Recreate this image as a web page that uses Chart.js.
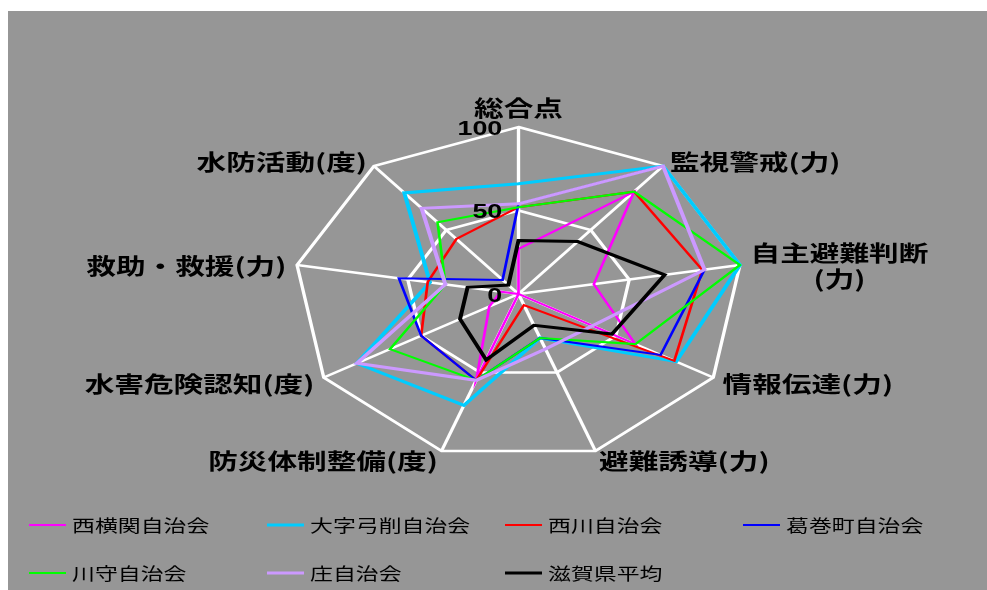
<!DOCTYPE html>
<html>
<head>
<meta charset="utf-8">
<script src="https://cdn.jsdelivr.net/npm/chart.js@4.4.1/dist/chart.umd.min.js"></script>
<style>
  html, body { margin: 0; padding: 0; background: #fff; }
  #wrap { position: absolute; left: 8px; top: 11px; width: 979px; height: 579px; background: #969696; }
  canvas { display: block; }
</style>
</head>
<body>
<div id="wrap"><canvas id="chart" width="979" height="579"></canvas></div>
<script>
// axes, clockwise from the top
var categories = ['総合点', '監視警戒(力)', ['自主避難判断', '(力)'], '情報伝達(力)', '避難誘導(力)',
                  '防災体制整備(度)', '水害危険認知(度)', '救助・救援(力)', '水防活動(度)'];
var tickValues = [0, 50, 100];

var seriesNames = ['西横関自治会', '大字弓削自治会', '西川自治会', '葛巻町自治会', '川守自治会', '庄自治会', '滋賀県平均'];
var nishiyokozeki = [27, 80, 34, 60, 0, 55, 15, 8, 0];
var oazaYuge      = [66, 100, 100, 81, 28, 71, 83, 40, 79];
var nishikawa     = [52, 80, 83, 80, 7, 55, 50, 41, 43];
var kuzumakicho   = [54, 100, 84, 73, 28, 55, 50, 54, 11];
var kawamori      = [52, 80, 100, 60, 28, 55, 66, 33, 56];
var sho           = [54, 100, 84, 38, 35, 55, 83, 33, 67];
var shigaAverage  = [32, 41, 66, 48, 20, 42, 30, 23, 7];

var seriesColors = ['#ff00ff', '#00ccff', '#ff0000', '#0000ff', '#00ff00', '#cc99ff', '#000000'];
var seriesWidths = [2, 3, 2, 2, 2, 3, 3];

// the original picture is stretched sideways
var SX = 1.3466;
var CX = 510.5 / SX, CY = 283, R = 167;

var allSeries = [nishiyokozeki, oazaYuge, nishikawa, kuzumakicho, kawamori, sho, shigaAverage];
var datasets = allSeries.map(function(values, i) {
    return {
        label: seriesNames[i],
        data: values,
        borderColor: seriesColors[i],
        borderWidth: seriesWidths[i],
        fill: false,
        pointRadius: 0,
        pointHoverRadius: 0,
        tension: 0,
        clip: false,
        order: allSeries.length - i
    };
});

var stretchPlugin = {
    id: 'stretch',
    beforeDraw: function(chart) {
        chart.ctx.save();
        chart.ctx.scale(SX, 1);
    },
    afterDraw: function(chart) {
        var ctx = chart.ctx, r = chart.scales.r;

        // value labels left of the vertical axis
        ctx.fillStyle = '#000';
        ctx.font = 'bold 20px "Liberation Sans", Arial, sans-serif';
        ctx.textAlign = 'right';
        ctx.textBaseline = 'middle';
        tickValues.forEach(function(v) {
            ctx.fillText(String(v), r.xCenter - 12, r.yCenter - r.getDistanceFromCenterForValue(v) + 2);
        });

        // axis names
        ctx.font = 'bold 22px "Noto Sans CJK JP", sans-serif';
        categories.forEach(function(lab, i) {
            var p = r.getPointPosition(i, r.drawingArea + 8);
            var lines = [].concat(lab);
            var w = Math.max.apply(null, lines.map(function(l) { return ctx.measureText(l).width; }));
            var dx = p.x - r.xCenter;
            var lh = 26;
            var mid;
            if (Math.abs(dx) < 1) {
                mid = p.x;
                ctx.textAlign = 'center';
                ctx.textBaseline = 'bottom';
                ctx.fillText(lines[0], mid, p.y);
                return;
            }
            mid = dx > 0 ? p.x + w / 2 : p.x - w / 2;
            ctx.textAlign = 'center';
            ctx.textBaseline = 'middle';
            var y0 = p.y + 2 - (lines.length - 1) * lh / 2;
            lines.forEach(function(l, k) {
                ctx.fillText(l, mid, y0 + k * lh);
            });
        });

        // legend, four columns
        var cols = [29, 267, 505, 743], rows = [525, 573];
        ctx.font = '17px "Noto Sans CJK JP", sans-serif';
        ctx.textAlign = 'left';
        ctx.textBaseline = 'middle';
        chart.data.datasets.forEach(function(ds, i) {
            var x = (cols[i % 4] - 8) / SX, y = rows[Math.floor(i / 4)] - 11;
            ctx.strokeStyle = ds.borderColor;
            ctx.lineWidth = ds.borderWidth;
            ctx.beginPath();
            ctx.moveTo(x, y);
            ctx.lineTo(x + 37 / SX, y);
            ctx.stroke();
            ctx.fillStyle = '#000';
            ctx.fillText(ds.label, x + 43 / SX, y + 1);
        });

        ctx.restore();
    }
};

new Chart(document.getElementById('chart'), {
    type: 'radar',
    data: { labels: categories, datasets: datasets },
    options: {
        responsive: false,
        devicePixelRatio: 1,
        animation: false,
        events: [],
        plugins: { legend: { display: false }, tooltip: { enabled: false } },
        scales: {
            r: {
                min: 0,
                max: 100,
                afterSetDimensions: function(s) {
                    s.xCenter = CX;
                    s.yCenter = CY;
                    s.drawingArea = R;
                },
                afterBuildTicks: function(s) {
                    s.ticks = tickValues.map(function(v) { return { value: v }; });
                },
                ticks: { display: false },
                pointLabels: { display: false },
                grid: { color: '#ffffff', lineWidth: 2.5 },
                angleLines: { color: '#ffffff', lineWidth: 2.5 }
            }
        }
    },
    plugins: [stretchPlugin]
});
</script>
</body>
</html>
